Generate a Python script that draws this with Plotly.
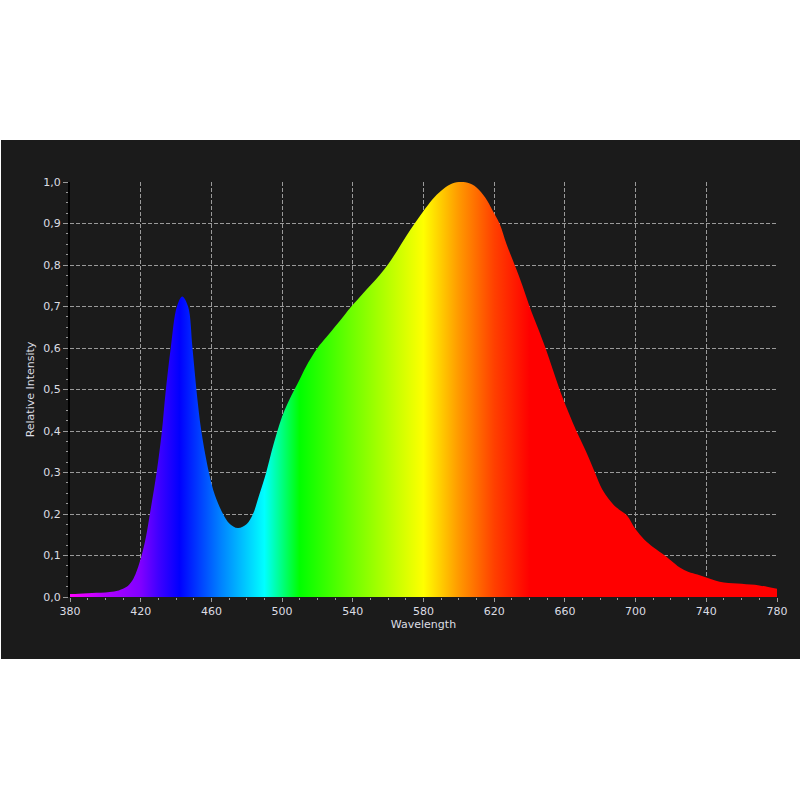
import plotly.graph_objects as go

wavelength = [380, 385, 390, 395, 400, 405, 410, 413, 416, 420, 423, 425, 429, 432, 434, 437,
              440.5, 443.5, 446.8, 449.3, 451.5, 454.3, 458.6, 462, 466.6, 470, 475, 480, 483.5,
              487, 491, 494, 497, 500, 503.5, 507, 510, 513.5, 520, 525, 530, 535, 540, 545, 550,
              555, 560, 565, 570, 575, 580, 585, 590, 595, 600, 605, 610, 615, 619, 623, 627,
              631.6, 636, 640, 645, 649, 653, 657, 662, 666.5, 672, 677, 681, 685, 689, 695, 700,
              705, 710, 716.5, 720, 725, 730, 735, 740, 745, 750, 755, 760, 765, 770, 775, 780]
intensity = [0.007, 0.008, 0.009, 0.010, 0.011, 0.013, 0.020, 0.028, 0.045, 0.092, 0.145, 0.195,
             0.300, 0.400, 0.490, 0.600, 0.700, 0.724, 0.700, 0.600, 0.500, 0.400, 0.300, 0.245,
             0.200, 0.178, 0.166, 0.176, 0.200, 0.245, 0.300, 0.350, 0.395, 0.435, 0.470, 0.500,
             0.525, 0.555, 0.600, 0.626, 0.652, 0.678, 0.704, 0.728, 0.751, 0.775, 0.802, 0.834,
             0.868, 0.900, 0.930, 0.958, 0.979, 0.994, 1.000, 0.998, 0.987, 0.962, 0.932, 0.900,
             0.850, 0.800, 0.750, 0.700, 0.645, 0.600, 0.550, 0.500, 0.445, 0.400, 0.350, 0.300,
             0.260, 0.235, 0.216, 0.197, 0.163, 0.138, 0.120, 0.100, 0.088, 0.071, 0.060, 0.054,
             0.047, 0.040, 0.035, 0.033, 0.032, 0.030, 0.028, 0.024, 0.020]

x_ticks = [380, 420, 460, 500, 540, 580, 620, 660, 700, 740, 780]
y_ticks = [0.0, 0.1, 0.2, 0.3, 0.4, 0.5, 0.6, 0.7, 0.8, 0.9, 1.0]

spectrum_nm = [380, 400, 420, 430, 442, 465, 490, 500, 510, 540, 580, 600, 620, 640, 780]
spectrum_col = ["#ff00ff", "#b000ff", "#8000ff", "#4000ff", "#0000ff", "#0080ff", "#00ffff",
                "#00ff80", "#00ff00", "#70ff00", "#ffff00", "#ff9900", "#ff4000", "#ff0000", "#ff0000"]
colorscale = [[(w - 380) / 400, c] for w, c in zip(spectrum_nm, spectrum_col)]

PANEL = "#1b1b1b"
GRID = "#9a9a9a"
TXT = "#dcdde3"
FONT = "DejaVu Sans, Verdana, sans-serif"

fig = go.Figure()
fig.add_trace(go.Scatter(
    x=wavelength, y=intensity, mode="lines",
    line=dict(width=0, shape="spline", smoothing=1.0),
    fill="tozeroy",
    fillgradient=dict(type="horizontal", start=380, stop=780, colorscale=colorscale),
    hoverinfo="skip", showlegend=False,
))

L, R, T, B = 70, 23, 182, 203
W, H = 800 - L - R, 800 - T - B
fig.add_shape(type="rect", xref="paper", yref="paper",
              x0=(1 - L) / W, x1=(800 - L) / W,
              y0=(T + H - 659) / H, y1=(T + H - 140) / H,
              fillcolor=PANEL, line=dict(width=0), layer="below")

fig.update_layout(
    width=800, height=800,
    margin=dict(l=L, r=R, t=T, b=B, pad=0),
    paper_bgcolor="white", plot_bgcolor=PANEL,
    separators=", ",
    font=dict(family=FONT, size=11, color=TXT),
    xaxis=dict(
        range=[380, 780], tickvals=x_ticks, ticktext=[str(v) for v in x_ticks],
        showgrid=True, gridcolor=GRID, gridwidth=1, griddash="4px,2px",
        zeroline=False, showline=False,
        ticks="outside", ticklen=4, tickcolor=GRID, tickwidth=1,
        minor=dict(dtick=10, tick0=380, ticks="outside", ticklen=2, tickcolor=GRID, showgrid=False),
        tickfont=dict(family=FONT, size=11, color=TXT),
        title=dict(text="Wavelength", font=dict(family=FONT, size=11, color=TXT), standoff=3),
    ),
    yaxis=dict(
        range=[0, 1.0], tickvals=y_ticks, tickformat=".1f",
        showgrid=True, gridcolor=GRID, gridwidth=1, griddash="4px,2px",
        zeroline=False, showline=True, linecolor="#000000", linewidth=2,
        ticks="outside", ticklen=5, tickcolor=GRID, tickwidth=1,
        minor=dict(dtick=0.025, tick0=0, ticks="outside", ticklen=2, tickcolor=GRID, showgrid=False),
        tickfont=dict(family=FONT, size=11, color=TXT),
        title=dict(text="Relative Intensity", font=dict(family=FONT, size=11, color=TXT), standoff=6),
    ),
)

fig.write_html("out.html", config={"displayModeBar": False},
               post_script="document.body.style.margin='0px';")
